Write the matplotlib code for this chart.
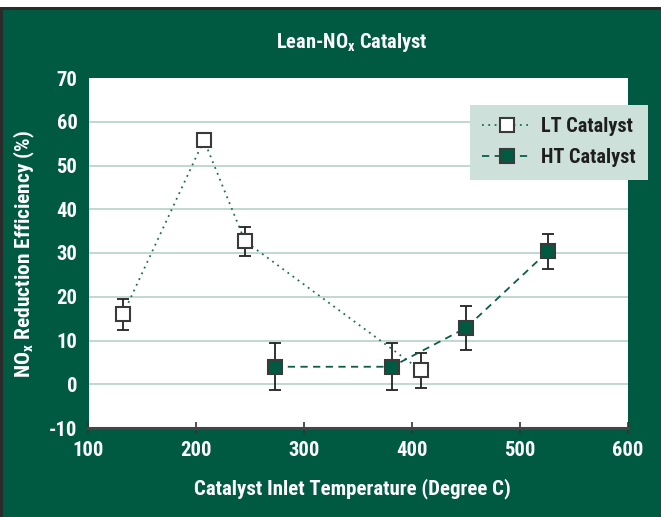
import matplotlib
matplotlib.use("Agg")
import matplotlib.pyplot as plt
from matplotlib.patches import Rectangle
from matplotlib import font_manager as fm

# ---- data ----
lt_temp = [132, 207, 245, 408]
lt_eff = [16, 55.8, 32.7, 3.2]
lt_err = [3.5, 0.0, 3.3, 4.0]

ht_temp = [273, 381, 450, 526]
ht_eff = [4.0, 4.0, 12.9, 30.4]
ht_err = [5.4, 5.4, 5.1, 4.0]

x_ticks = [100, 200, 300, 400, 500, 600]
y_ticks = [-10, 0, 10, 20, 30, 40, 50, 60, 70]

GREEN = "#005a42"

# pick a condensed font if present
names = {f.name for f in fm.fontManager.ttflist}
stretch = "normal"
chosen = None
for cand in ["Liberation Sans Narrow", "Roboto Condensed", "DejaVu Sans Condensed",
             "Open Sans Condensed", "Noto Sans Condensed"]:
    if cand in names:
        chosen = cand
        break
if chosen is None:
    cond = [f for f in fm.fontManager.ttflist
            if f.name in ("DejaVu Sans", "Noto Sans", "Open Sans")
            and str(f.stretch) in ("condensed", "semi-condensed", "587", "500", "600")]
    if cond:
        chosen = cond[0].name
        stretch = "condensed"
    else:
        chosen = "Roboto" if "Roboto" in names else "DejaVu Sans"

FONT = [chosen, "DejaVu Sans"]
plt.rcParams["font.family"] = FONT
plt.rcParams["font.weight"] = "bold"
plt.rcParams["font.stretch"] = stretch
plt.rcParams["axes.unicode_minus"] = False

W, H = 661, 517
fig = plt.figure(figsize=(W / 100, H / 100), dpi=100, facecolor=GREEN)
renderer = fig.canvas.get_renderer()


def fit_size(text, target_w, base=12):
    t = fig.text(0, 0, text, fontsize=base, fontweight="bold")
    w = t.get_window_extent(renderer).width
    t.remove()
    return base * target_w / w


# frame decorations
fig.patches.append(Rectangle((0, 1 - 7 / H), 1, 7 / H, transform=fig.transFigure,
                             facecolor="white", edgecolor="none", zorder=0))
fig.patches.append(Rectangle((0, 1 - 9.5 / H), 1, 2.5 / H, transform=fig.transFigure,
                             facecolor="#2b2b2b", edgecolor="none", zorder=0))
fig.patches.append(Rectangle((0, 0), 2.5 / W, 1 - 7 / H, transform=fig.transFigure,
                             facecolor="#2b2b2b", edgecolor="none", zorder=0))

ax = fig.add_axes([88.5 / W, (H - 428) / H, (628 - 88.5) / W, (428 - 78) / H])
ax.set_facecolor("white")
ax.set_xlim(100, 600)
ax.set_ylim(-10, 70)

for y in y_ticks[1:-1]:
    ax.axhline(y, color="#bcd6cd", lw=1.3, zorder=1)

# error bars
ax.errorbar(lt_temp, lt_eff, yerr=lt_err, fmt="none", ecolor="#222222",
            elinewidth=1.3, capsize=4, capthick=1.3, zorder=3)
ax.errorbar(ht_temp, ht_eff, yerr=ht_err, fmt="none", ecolor="#222222",
            elinewidth=1.3, capsize=4, capthick=1.3, zorder=3)

ax.plot(lt_temp, lt_eff, linestyle=(0, (1, 2.5)), color="#1d6e55", lw=1.3,
        marker="s", markersize=9.5, markerfacecolor="white",
        markeredgecolor="#3a3a3a", markeredgewidth=1.5, zorder=4,
        label="LT Catalyst")
ax.plot(ht_temp, ht_eff, linestyle=(0, (4, 3)), color="#0d5e47", lw=1.3,
        marker="s", markersize=9.5, markerfacecolor=GREEN,
        markeredgecolor="#3a3a3a", markeredgewidth=1.5, zorder=4,
        label="HT Catalyst")

for s in ["top", "right", "left"]:
    ax.spines[s].set_visible(False)
ax.spines["bottom"].set_color("#444444")
ax.spines["bottom"].set_linewidth(2.2)
ax.spines["bottom"].set_zorder(5)

tick_fs = fit_size("100", 31)
title_fs = fit_size("Lean-NOx Catalyst", 152)
xlab_fs = fit_size("Catalyst Inlet Temperature (Degree C)", 318)
ylab_fs = fit_size("NOx Reduction Efficiency (%)", 250)
leg_fs = fit_size("LT Catalyst", 92)

ax.set_xticks(x_ticks)
ax.set_yticks(y_ticks)
ax.set_xticklabels([str(v) for v in x_ticks])
ax.set_yticklabels([str(v) for v in y_ticks])
ax.tick_params(axis="x", direction="inout", length=8, width=1.2, color="#333333",
               labelcolor="white", labelsize=tick_fs, pad=5)
ax.tick_params(axis="y", length=0, labelcolor="white", labelsize=tick_fs, pad=8)
for lab in ax.get_xticklabels() + ax.get_yticklabels():
    lab.set_fontweight("bold")

fig.text(352 / W, (H - 42) / H, r"Lean-NO$_\mathregular{x}$ Catalyst", color="white",
         fontsize=title_fs, fontweight="bold", ha="center", va="center")
fig.text(352 / W, (H - 489) / H, "Catalyst Inlet Temperature (Degree C)", color="white",
         fontsize=xlab_fs, fontweight="bold", ha="center", va="center")
fig.text(24 / W, (H - 254) / H, r"NO$_\mathregular{x}$ Reduction Efficiency (%)",
         color="white", fontsize=ylab_fs, fontweight="bold", ha="center", va="center",
         rotation=90)

leg = ax.legend(loc="upper right", bbox_to_anchor=(648 / W, 1 - 105 / H),
                bbox_transform=fig.transFigure, borderaxespad=0, fancybox=False,
                frameon=True, facecolor="#cde0da", edgecolor="none", framealpha=1,
                prop={"family": FONT, "weight": "bold", "size": leg_fs,
                      "stretch": stretch},
                handlelength=2.4, handletextpad=0.5, labelspacing=0.6,
                borderpad=0.6)
for t in leg.get_texts():
    t.set_color("#1e1e1e")
leg.set_zorder(10)

fig.savefig("out.png", dpi=100, facecolor=GREEN)
